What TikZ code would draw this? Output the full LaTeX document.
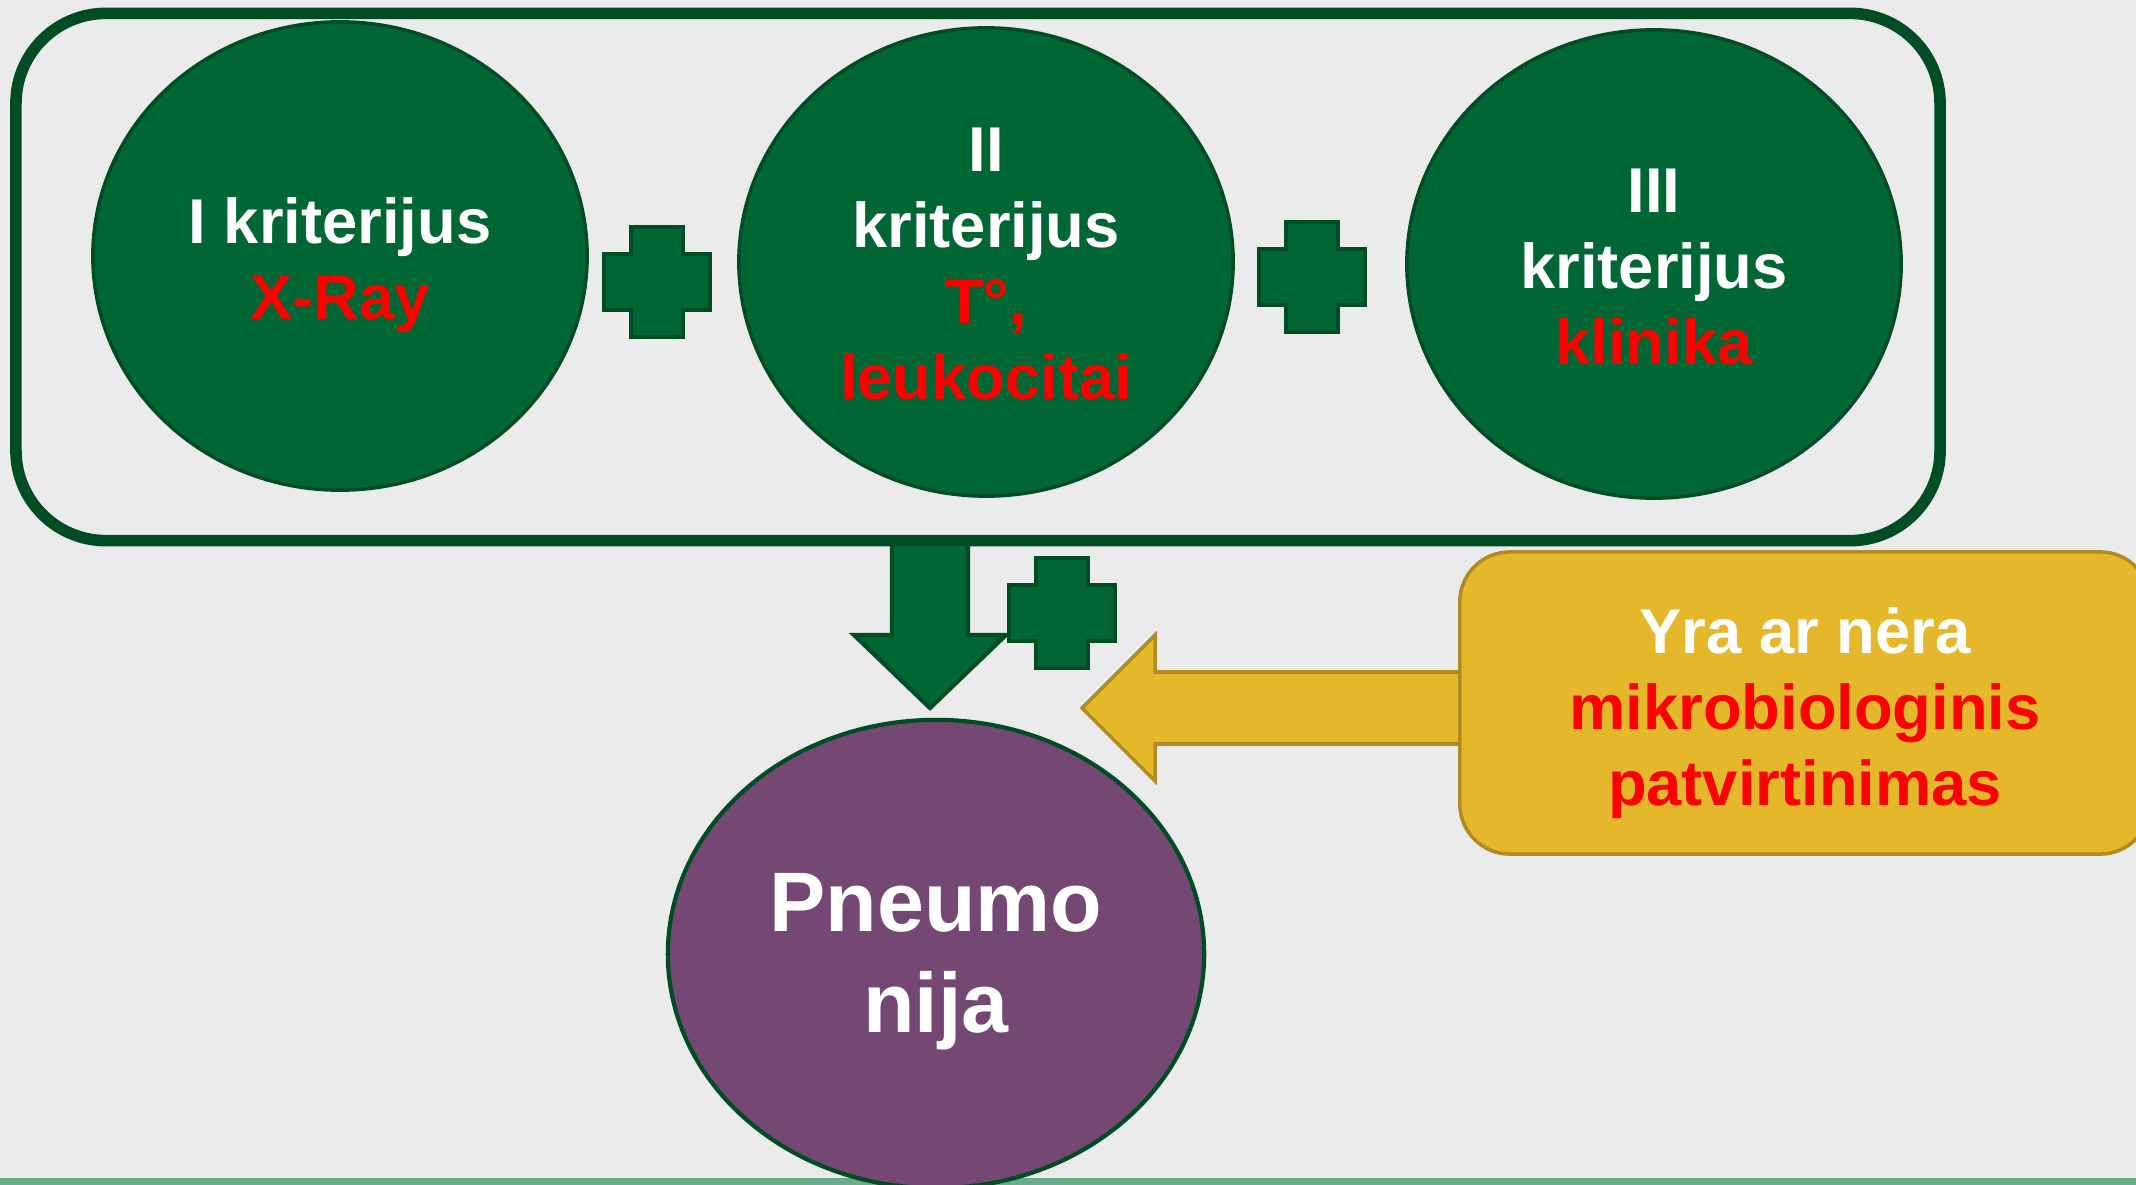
\documentclass[tikz,border=0pt]{standalone}
\usepackage{fontspec}
\setmainfont{Liberation Sans}
\usetikzlibrary{calc, shapes.geometric}

\definecolor{bgray}{HTML}{EBEBEB}
\definecolor{kgreen}{HTML}{006633}
\definecolor{kdark}{HTML}{004D25}
\definecolor{kred}{HTML}{FF0000}
\definecolor{kpurple}{HTML}{754874}
\definecolor{kyellow}{HTML}{E5B82B}
\definecolor{kyeldark}{HTML}{B08A22}
\definecolor{kbar}{HTML}{69AD8C}

\begin{document}
\begin{tikzpicture}[x=0.01cm, y=-0.01cm,
  crit/.style={ellipse, fill=kgreen, draw=kdark, line width=1pt,
    minimum width=4.94cm, minimum height=4.68cm, inner sep=0pt},
  crittext/.style={align=center, text=white, inner sep=0pt,
    font=\fontsize{18}{21.6}\selectfont\bfseries},
  greenarrow/.style={fill=kgreen, draw=kdark, line width=1.2pt},
  yellowarrow/.style={fill=kyellow, draw=kyeldark, line width=1pt},
  plussign/.pic={\filldraw[greenarrow] (-26,-55) -- (26,-55) -- (26,-28)
    -- (53,-28) -- (53,28) -- (26,28) -- (26,55) -- (-26,55) -- (-26,28)
    -- (-53,28) -- (-53,-28) -- (-26,-28) -- cycle;}]

% Background
\fill[bgray] (0,0) rectangle (2136,1185);
\useasboundingbox (0,0) rectangle (2136,1185);
\clip (0,0) rectangle (2136,1185);
\fill[kbar] (0,1178) rectangle (2136,1185);

% Criteria frame
\node[draw=kdark, line width=3.3pt, rounded corners=0.9cm,
  minimum width=19.23cm, minimum height=5.27cm] (frame) at (978,277) {};

% Criteria
\node[crit] (krit1) at (340,256) {};
\node[crittext] (krit1txt) at ($(krit1)+(0,9)$) {I kriterijus\\\textcolor{kred}{X-Ray}};
\node[crit] (krit2) at (986,262) {};
\node[crittext] (krit2txt) at ($(krit2)+(0,2)$) {II\\kriterijus\\\textcolor{kred}{T°,}\\\textcolor{kred}{leukocitai}};
\node[crit] (krit3) at (1654,264) {};
\node[crittext] (krit3txt) at ($(krit3)+(0,3)$) {III\\kriterijus\\\textcolor{kred}{klinika}};

\pic at (657,282) {plussign};
\pic at (1312,277) {plussign};
\pic at (1062,613) {plussign};

% Arrows
\coordinate (dtop) at (930,546);
\coordinate (dtip) at (930,708);
\filldraw[greenarrow] (dtop) ++(-38,0) -- ++(0,89) -- ++(-38,0) -- (dtip)
  -- ++(76,-73) -- ++(-38,0) -- ++(0,-89);

\coordinate (ytip) at (1082,708);
\filldraw[yellowarrow] (ytip) -- ++(73,-73) -- ++(0,37) -- ++(310,0)
  -- ++(0,72) -- ++(-310,0) -- ++(0,37) -- cycle;

% Microbiology box
\node[fill=kyellow, draw=kyeldark, line width=1pt, rounded corners=0.5cm,
  minimum width=6.9cm, minimum height=3.02cm] (mikro) at (1805,703) {};
\node[crittext] (mikrotxt) at ($(mikro)+(0,10)$)
  {Yra ar nėra\\\textcolor{kred}{mikrobiologinis}\\\textcolor{kred}{patvirtinimas}};

% Result
\node[ellipse, fill=kpurple, draw=kdark, line width=1.2pt,
  minimum width=5.36cm, minimum height=4.68cm, inner sep=0pt] (pneumo) at (936,954) {};
\node[crittext, font=\fontsize{24}{28.7}\selectfont\bfseries] (pneumotxt)
  at ($(pneumo)+(0,8)$) {Pneumo\\nija};
\end{tikzpicture}
\end{document}
